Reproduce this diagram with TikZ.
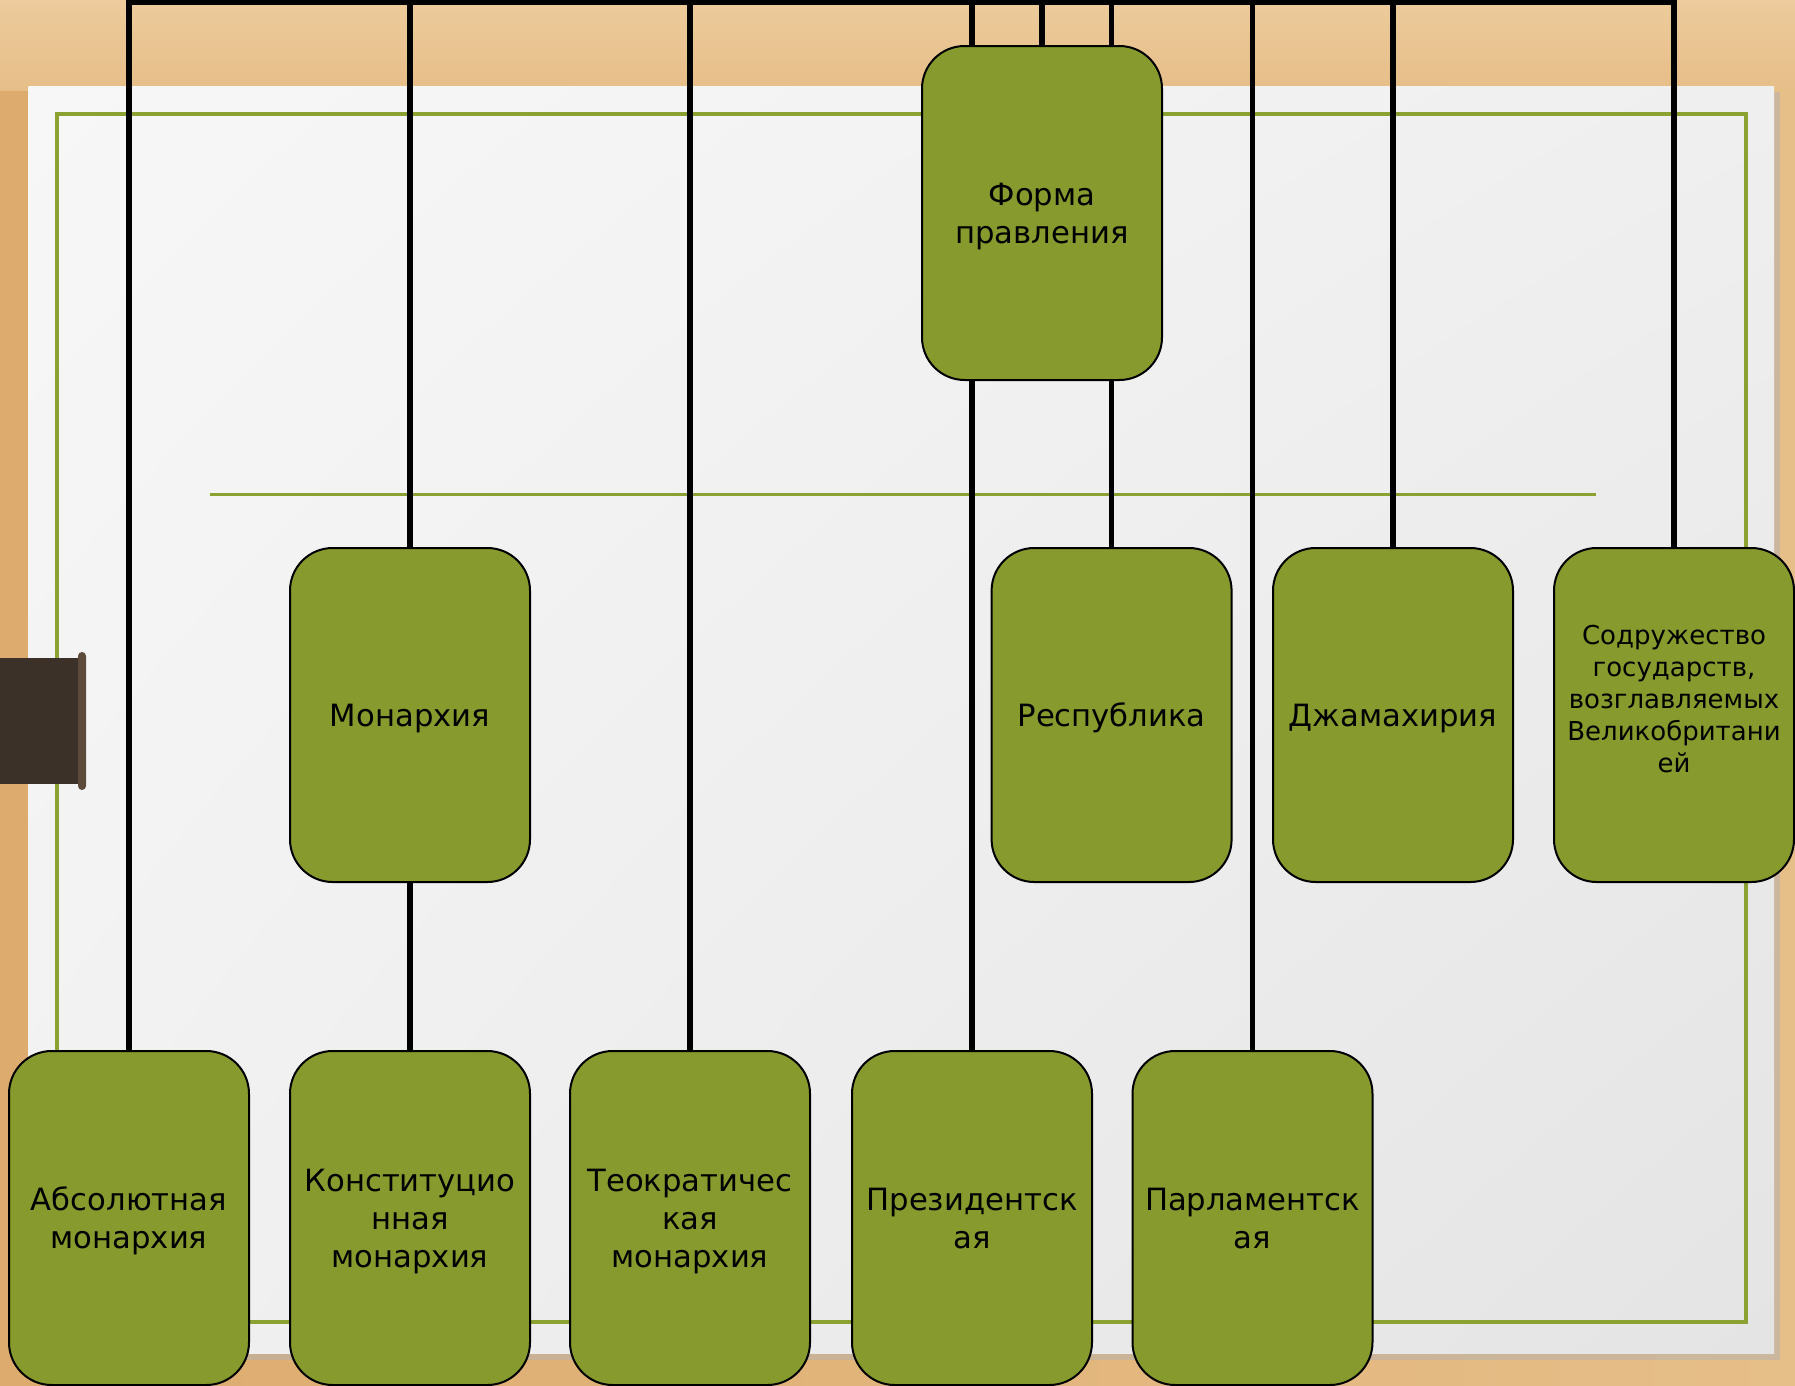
\documentclass[tikz,border=0pt]{standalone}
\usepackage{fontspec}
\usetikzlibrary{shadings}
\setmainfont{DejaVu Sans}
\definecolor{wood}{HTML}{E6BE88}
\definecolor{wooddark}{HTML}{DDAB6E}
\definecolor{woodlight}{HTML}{EDCB9C}
\definecolor{boxgreen}{HTML}{869A2D}
\definecolor{framegreen}{HTML}{8BA233}
\definecolor{tabdark}{HTML}{3B3129}
\definecolor{tabedge}{HTML}{5C4B3B}
\definecolor{paperA}{HTML}{F7F7F7}
\definecolor{paperB}{HTML}{EFEFEF}
\definecolor{paperC}{HTML}{F1F1F1}
\definecolor{paperD}{HTML}{E4E4E4}
\pgfdeclarelayer{back}
\pgfdeclarelayer{conns}
\pgfsetlayers{back,conns,main}
\newcommand{\boxtext}[2]{\raisebox{#1}[\height][\depth]{\begin{tabular}{@{}c@{}}#2\end{tabular}}}
\tikzset{
  gbox/.style={draw=black, line width=1.5pt, fill=boxgreen, rounded corners=32pt,
    minimum width=180pt, minimum height=250.5pt, inner sep=2pt, align=center,
    font=\fontsize{23}{28.5}\selectfont, text=black},
  smallbox/.style={gbox, font=\fontsize{19.5}{24}\selectfont},
  conn/.style={draw=black, line width=4.2pt, line join=miter},
  greenline/.style={draw=framegreen, line width=2.4pt}
}
\begin{document}
\begin{tikzpicture}[x=0.75pt,y=-0.75pt]
\useasboundingbox (0,0) rectangle (1795,1385);
% nodes
\node[gbox] (form) at (1042,213) {\boxtext{-2.6pt}{Форма\\правления}};
\node[gbox] (mon) at (410,715) {\boxtext{-2.6pt}{Монархия}};
\node[gbox] (rep) at (1111.6,715) {\boxtext{-2.6pt}{Республика}};
\node[gbox] (jam) at (1393,715) {\boxtext{-2.6pt}{Джамахирия}};
\node[smallbox] (sod) at (1674,715) {\boxtext{9.5pt}{Содружество\\государств,\\возглавляемых\\Великобритани\\ей}};
\node[gbox] (abs) at (129,1218) {\boxtext{-2.6pt}{Абсолютная\\монархия}};
\node[gbox] (kon) at (410,1218) {\boxtext{-2.6pt}{Конституцио\\нная\\монархия}};
\node[gbox] (teo) at (690,1218) {\boxtext{-2.6pt}{Теократичес\\кая\\монархия}};
\node[gbox] (pre) at (972,1218) {\boxtext{-2.6pt}{Президентск\\ая}};
\node[gbox] (par) at (1252.5,1218) {\boxtext{-2.6pt}{Парламентск\\ая}};
\coordinate (bar) at (0,2.5);
% background
\begin{pgfonlayer}{back}
  \shade[left color=wooddark, right color=wood] (0,0) rectangle (1795,1385);
  \shade[top color=woodlight, bottom color=wood] (0,0) rectangle (1795,90);
  \fill[black!30, opacity=0.5] (32,92) rectangle (1780,1360);
  \shade[upper left=paperA, upper right=paperB,
         lower left=paperC, lower right=paperD] (28.6,86) rectangle (1774,1353);
  \draw[greenline] (57,114) rectangle (1746,1322);
  \draw[greenline] (209.5,494.5) -- (1596,494.5);
  \fill[tabdark] (0,658) rectangle (84,784);
  \fill[tabedge, rounded corners=3pt] (78,652) rectangle (86,790);
\end{pgfonlayer}
% connectors
\begin{pgfonlayer}{conns}
  \draw[conn] (abs.north) |- (sod.north |- bar) -- (sod.north);
  \draw[conn] (mon.north) -- (mon.north |- bar);
  \draw[conn] (teo.north) -- (teo.north |- bar);
  \draw[conn] (pre.north) -- (pre.north |- bar);
  \draw[conn] (form.north) -- (form.north |- bar);
  \draw[conn] (rep.north) -- (rep.north |- bar);
  \draw[conn] (jam.north) -- (jam.north |- bar);
  \draw[conn] (par.north) -- (par.north |- bar);
  \draw[conn] (mon.south) -- (kon.north);
\end{pgfonlayer}
\end{tikzpicture}
\end{document}
